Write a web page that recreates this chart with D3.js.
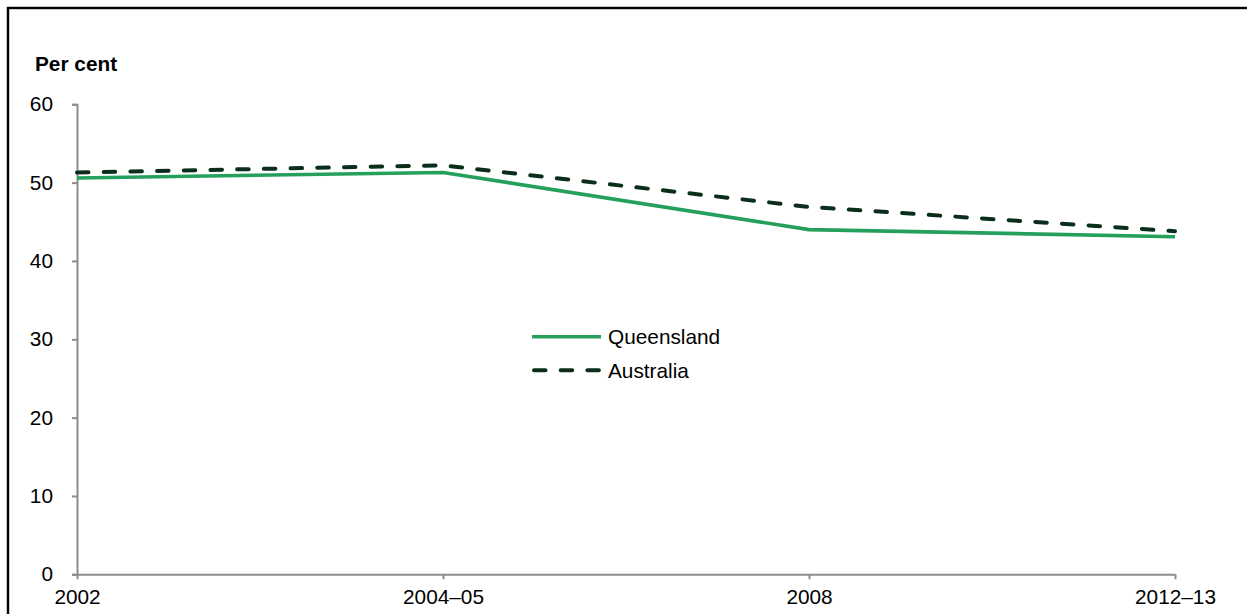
<!DOCTYPE html>
<html>
<head>
<meta charset="utf-8">
<script src="https://cdn.jsdelivr.net/npm/d3@7"></script>
<style>
  html, body { margin: 0; padding: 0; background: #fff; }
  svg { display: block; font-family: "Liberation Sans", Arial, sans-serif; }
</style>
</head>
<body>
<svg id="chart" width="1247" height="614"></svg>
<script>
const categories = ["2002", "2004\u201305", "2008", "2012\u201313"];
const queensland = [50.6, 51.3, 44.0, 43.1];
const australia = [51.3, 52.2, 46.9, 43.8];
const yTicks = [0, 10, 20, 30, 40, 50, 60];
const seriesNames = ["Queensland", "Australia"];

const svg = d3.select("#chart");
const W = 1247, H = 614;
const FS = 20.8;

// outer frame
svg.append("rect")
  .attr("x", 8).attr("y", 8)
  .attr("width", W + 20).attr("height", H + 20)
  .attr("fill", "none").attr("stroke", "#000").attr("stroke-width", 2.4);

const x = d3.scalePoint().domain(categories).range([77, 1175]);
const y = d3.scaleLinear().domain([0, 60]).range([574.3, 104.3]);

const axisColor = "#8c8c8c";

// y axis
const yAxis = svg.append("g").attr("transform", "translate(77,0)")
  .call(d3.axisLeft(y).tickValues(yTicks).tickSize(5).tickPadding(19).tickFormat(d3.format("d")));
yAxis.select(".domain").attr("stroke", axisColor).attr("stroke-width", 2);
yAxis.selectAll(".tick line").attr("stroke", axisColor).attr("stroke-width", 2);
yAxis.selectAll(".tick text").attr("fill", "#000").attr("font-size", FS)
  .attr("font-family", "Liberation Sans, Arial, sans-serif");

// x axis
const xAxis = svg.append("g").attr("transform", "translate(0,574.3)")
  .call(d3.axisBottom(x).tickSize(5).tickSizeOuter(0).tickPadding(10));
xAxis.select(".domain").attr("stroke", axisColor).attr("stroke-width", 2);
xAxis.selectAll(".tick line").attr("stroke", axisColor).attr("stroke-width", 2);
xAxis.selectAll(".tick text").attr("fill", "#000").attr("font-size", FS)
  .attr("font-family", "Liberation Sans, Arial, sans-serif");

// y title
svg.append("text").attr("x", 35).attr("y", 71)
  .attr("font-size", FS).attr("font-weight", "bold").attr("fill", "#000")
  .text("Per cent");

const line = d3.line().x((d, i) => x(categories[i])).y(d => y(d));

const styles = {
  Queensland: { stroke: "#24a05c", width: 3.6, dash: null, cap: "butt" },
  Australia: { stroke: "#0a2e1a", width: 4, dash: "11.5,15.2", cap: "round" }
};

svg.append("path").datum(queensland)
  .attr("d", line).attr("fill", "none")
  .attr("stroke", styles.Queensland.stroke).attr("stroke-width", styles.Queensland.width)
  .attr("stroke-linejoin", "round");

svg.append("path").datum(australia)
  .attr("d", line).attr("fill", "none")
  .attr("stroke", styles.Australia.stroke).attr("stroke-width", styles.Australia.width)
  .attr("stroke-dasharray", styles.Australia.dash)
  .attr("stroke-linecap", "round");

// legend
const legendY = [336.7, 370.3];
seriesNames.forEach((name, i) => {
  const s = styles[name];
  svg.append("line")
    .attr("x1", i === 0 ? 532 : 534).attr("x2", 601)
    .attr("y1", legendY[i]).attr("y2", legendY[i])
    .attr("stroke", s.stroke).attr("stroke-width", s.width)
    .attr("stroke-dasharray", s.dash)
    .attr("stroke-linecap", s.cap);
  svg.append("text")
    .attr("x", 608).attr("y", legendY[i]).attr("dy", "0.35em")
    .attr("font-size", FS).attr("fill", "#000")
    .text(name);
});
</script>
</body>
</html>
